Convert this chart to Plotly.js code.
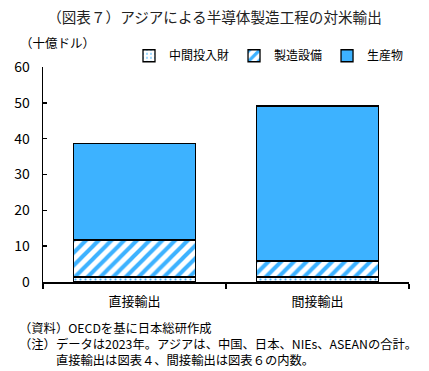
<!DOCTYPE html>
<html><head><meta charset="utf-8">
<script src="https://cdn.plot.ly/plotly-3.0.1.min.js"></script>
<style>html,body{margin:0;padding:0;background:#fff}#chart{width:429px;height:371px}</style>
</head><body><div id="chart"></div>
<script>
const categories = ["直接輸出", "間接輸出"];
const seriesNames = ["中間投入財", "製造設備", "生産物"];
const intermediate = [1.4, 1.4];
const equipment = [10.3, 4.5];
const products = [27.0, 43.2];
const yTicks = [0, 10, 20, 30, 40, 50, 60];

const BLUE = "#3DB2FF";
const FONT = "Noto Sans CJK JP";
const line = {color: "#000", width: 1.3};

const traces = [
  {type: "bar", name: seriesNames[0], x: categories, y: intermediate,
   marker: {color: "#fff", line: line, pattern: {shape: ".", fgcolor: BLUE, bgcolor: "#fff", size: 5, solidity: 0.15}}},
  {type: "bar", name: seriesNames[1], x: categories, y: equipment,
   marker: {color: "#fff", line: line, pattern: {shape: "/", fgcolor: BLUE, bgcolor: "#fff", size: 9, solidity: 0.45}}},
  {type: "bar", name: seriesNames[2], x: categories, y: products,
   marker: {color: BLUE, line: line}}
];

const notes = "（資料）OECDを基に日本総研作成<br>" +
              "（注）データは2023年。アジアは、中国、日本、NIEs、ASEANの合計。<br>" +
              "　　　直接輸出は図表４、間接輸出は図表６の内数。";

const layout = {
  width: 429, height: 371,
  margin: {l: 43, r: 20, t: 67, b: 89},
  barmode: "stack", bargap: 0.335,
  paper_bgcolor: "#fff", plot_bgcolor: "#fff",
  font: {family: FONT, size: 12, color: "#000"},
  showlegend: true,
  legend: {orientation: "h", x: 1.0, xanchor: "right", y: 0.985, yanchor: "bottom",
           font: {family: FONT, size: 12, color: "#000"}, itemwidth: 30, tracegroupgap: 0,
           traceorder: "normal", bgcolor: "rgba(0,0,0,0)"},
  title: {text: "（図表７）アジアによる半導体製造工程の対米輸出", x: 0.5, xref: "container", xanchor: "center",
          y: 0.953, yanchor: "middle", font: {family: FONT, size: 14.6, color: "#222"}},
  xaxis: {type: "category", showline: true, linecolor: "#000", linewidth: 1.5,
          ticks: "outside", tickson: "boundaries", ticklen: 5, tickcolor: "#000", tickwidth: 1.5,
          ticklabelstandoff: 7,
          tickfont: {family: FONT, size: 13, color: "#000"}, showgrid: false, range: [-0.5, 1.5]},
  yaxis: {range: [0, 60], tickvals: yTicks, ticktext: yTicks.map(String), showline: true, linecolor: "#000", linewidth: 1.5,
          ticks: "inside", ticklen: 4, tickcolor: "#000", tickwidth: 1.5, showgrid: false, zeroline: false,
          ticklabelstandoff: 9,
          tickfont: {family: FONT, size: 14, color: "#000"}},
  annotations: [
    {text: "（十億ドル）", xref: "paper", yref: "paper", x: -0.068, y: 1.112, xanchor: "left", yanchor: "middle",
     showarrow: false, font: {family: FONT, size: 12.5, color: "#000"}},
    {text: notes, xref: "paper", yref: "paper", x: -0.07, y: -0.29, xanchor: "left", yanchor: "middle", align: "left",
     showarrow: false, font: {family: FONT, size: 12.3, color: "#000"}}
  ]
};

Plotly.newPlot("chart", traces, layout, {displayModeBar: false, staticPlot: true});
</script></body></html>
